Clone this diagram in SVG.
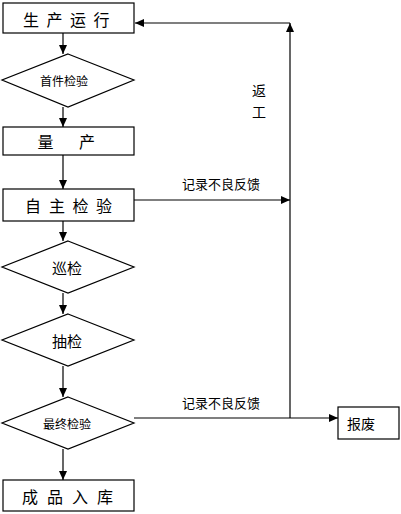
<svg xmlns="http://www.w3.org/2000/svg" width="401" height="514" viewBox="0 0 401 514">
<style>
.shape{fill:#fff;stroke:#000;stroke-width:1.2}
.ln{fill:none;stroke:#000;stroke-width:1.2}
text{font-family:"Noto Sans CJK SC","Noto Sans CJK JP",sans-serif;fill:#000;text-anchor:middle;dominant-baseline:central}
</style>
<defs>
<marker id="ah" markerWidth="9" markerHeight="8" refX="9" refY="4" orient="auto" markerUnits="userSpaceOnUse">
<path d="M0,0 L9,4 L0,8 Z" fill="#000"/>
</marker>
</defs>
<rect width="401" height="514" fill="#fff"/>
<g id="connectors">
<line class="ln" x1="63" y1="33" x2="63" y2="54" marker-end="url(#ah)"/>
<line class="ln" x1="63" y1="107" x2="63" y2="127" marker-end="url(#ah)"/>
<line class="ln" x1="63" y1="155" x2="63" y2="189" marker-end="url(#ah)"/>
<line class="ln" x1="63" y1="221" x2="63" y2="241" marker-end="url(#ah)"/>
<line class="ln" x1="63" y1="293" x2="63" y2="314" marker-end="url(#ah)"/>
<line class="ln" x1="63" y1="366" x2="63" y2="397" marker-end="url(#ah)"/>
<line class="ln" x1="63" y1="449" x2="63" y2="480" marker-end="url(#ah)"/>
<line class="ln" x1="134" y1="200" x2="290" y2="200" marker-end="url(#ah)"/>
<line class="ln" x1="134" y1="418" x2="338" y2="418" marker-end="url(#ah)"/>
<line class="ln" x1="290" y1="418" x2="290" y2="23" marker-end="url(#ah)"/>
<line class="ln" x1="290" y1="23" x2="135" y2="23" marker-end="url(#ah)"/>
<text x="221" y="183" font-size="13">记录不良反馈</text>
<text x="221" y="402" font-size="13">记录不良反馈</text>
<text x="259" y="90" font-size="14">返</text>
<text x="259" y="111" font-size="14">工</text>
</g>
<g id="n1"><rect class="shape" x="3" y="3" width="131" height="30"/><text x="31 54.5 78 101.5" y="19" font-size="16">生产运行</text></g>
<g id="n2"><polygon class="shape" points="68,54 134,80 68,107 2,80"/><text x="64" y="80" font-size="12">首件检验</text></g>
<g id="n3"><rect class="shape" x="3" y="127" width="131" height="28"/><text x="45.5 87" y="141" font-size="16">量产</text></g>
<g id="n4"><rect class="shape" x="3" y="189" width="131" height="32"/><text x="33 57 80.5 104" y="205" font-size="16">自主检验</text></g>
<g id="n5"><polygon class="shape" points="68,241 134,267 68,293 2,267"/><text x="67" y="267" font-size="15">巡检</text></g>
<g id="n6"><polygon class="shape" points="68,314 134,340 68,366 2,340"/><text x="67" y="340" font-size="15">抽检</text></g>
<g id="n7"><polygon class="shape" points="68,397 134,423 68,449 2,423"/><text x="67" y="423" font-size="12">最终检验</text></g>
<g id="n8"><rect class="shape" x="3" y="480" width="131" height="31"/><text x="30 55 80 105" y="496" font-size="16">成品入库</text></g>
<g id="n9"><rect class="shape" x="338" y="407" width="61" height="32"/><text x="361" y="423" font-size="14">报废</text></g>
</svg>
